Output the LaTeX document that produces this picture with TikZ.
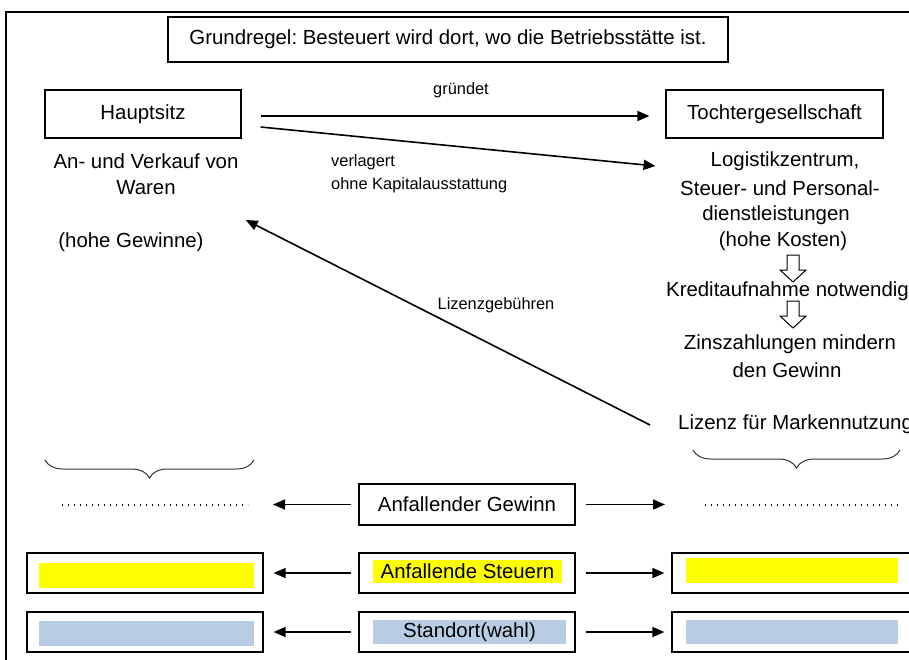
\documentclass[tikz,border=0pt]{standalone}
\usepackage{fontspec}
\setmainfont{Liberation Sans}
\usetikzlibrary{arrows.meta,decorations.pathreplacing,calc}
\definecolor{hl}{HTML}{FFFF00}
\definecolor{bl}{HTML}{B8CCE4}
\begin{document}
\frenchspacing
\begin{tikzpicture}[x=1pt,y=-1pt,
  txt/.style={font=\fontsize{20.4}{26.5}\selectfont, inner sep=0pt, align=center},
  lbl/.style={font=\fontsize{16.4}{23}\selectfont, inner sep=0pt, align=left},
  box/.style={draw, line width=1.2pt, inner sep=0pt},
  arr/.style={line width=1.6pt, -{Triangle[length=12pt,width=10pt]}},
  hollow/.style={draw, line width=1pt, fill=white},
  brc/.style={decorate, decoration={brace, mirror, amplitude=18pt}, line width=1pt, draw=black!80},
  dots/.style={line width=1.4pt, dash pattern=on 1.4pt off 4.6pt},
  frame/.style={line width=2.6pt}]
\useasboundingbox (0,0) rectangle (909,659);

% frame
\draw[frame] (6,662) -- (6,12) -- (912,12);

% title
\node[box, txt, minimum width=560pt, minimum height=45pt] (title) at (448,39.5)
  {Grundregel: Besteuert wird dort, wo die Betriebsstätte ist.};

% left column
\node[box, txt, minimum width=196pt, minimum height=48pt] (haupt) at (143,114) {Hauptsitz};
\node[txt] (waren) at (146,174) {An- und Verkauf von\\Waren};
\node[txt] (gewinne) at (131,242) {(hohe Gewinne)};

% right column
\node[box, txt, minimum width=217pt, minimum height=48pt] (tochter) at (774.5,114) {Tochtergesellschaft};
\node[txt] (logi) at (785,161) {Logistikzentrum,};
\node[txt] (steuer) at (780,188) {Steuer- und Personal-};
\node[txt] (dienst) at (776,215) {dienstleistungen};
\node[txt] (kosten) at (783,241) {(hohe Kosten)};
\node[txt] (kredit) at (787.5,291) {Kreditaufnahme notwendig};
\node[txt] (zins) at (790,344) {Zinszahlungen mindern};
\node[txt] (dengew) at (787,370) {den Gewinn};
\node[txt, anchor=west] (lizenz) at (678,424) {Lizenz für Markennutzung};

% hollow arrows
\draw[hollow] (787,255) -- (799,255) -- (799,270) -- (806,270) -- (793,282) -- (780,270) -- (787,270) -- cycle;
\draw[hollow] (787,301) -- (799,301) -- (799,316) -- (806,316) -- (793,328) -- (780,316) -- (787,316) -- cycle;

% top connectors
\node[lbl] (gruendet) at (461,90) {gründet};
\draw[arr] ($(haupt.east)+(19,2)$) -- ($(tochter.west)+(-16,2)$);
\node[lbl, anchor=west] (verl) at (331,173.5) {verlagert\\ohne Kapitalausstattung};
\draw[arr] ($(haupt.east)+(19,13)$) -- ($(logi.west)+(-55,5)$);
\node[lbl] (lizgeb) at (496,305) {Lizenzgebühren};
\draw[arr] ($(lizenz.west)+(-28,1)$) -- ($(gewinne.east)+(42,-22)$);

% braces
\draw[brc] (45,460) -- (254,460);
\draw[brc] (693,450) -- (900,450);

% row 1
\draw[dots] (62,505) -- (248,505);
\draw[dots] (705,505) -- (898,505);
\node[box, txt, minimum width=216pt, minimum height=41pt] (gew) at (467,504.5) {Anfallender Gewinn};
\coordinate (gewL) at (273,504.5);
\coordinate (gewR) at (665,504.5);
\draw[arr] ([xshift=-7pt]gew.west) -- (gewL);
\draw[arr] ([xshift=10pt]gew.east) -- (gewR);

% row 2
\node[box, minimum width=236pt, minimum height=40pt] (steuL) at (145,573) {};
\node[fill=hl, inner sep=0pt, minimum width=215pt, minimum height=25pt] (steuLi) at (146.5,575) {};
\node[box, minimum width=216pt, minimum height=40pt] (steuC) at (467,573) {};
\node[txt, fill=hl, minimum width=189pt, minimum height=23pt] (steuCi) at (467.5,571.5) {Anfallende Steuern};
\node[box, minimum width=250pt, minimum height=40pt] (steuR) at (797,573) {};
\node[fill=hl, inner sep=0pt, minimum width=212pt, minimum height=25pt] (steuRi) at (792,570.5) {};
\draw[arr] ([xshift=-7pt]steuC.west) -- ([xshift=10pt]steuL.east);
\draw[arr] ([xshift=10pt]steuC.east) -- ([xshift=-7pt]steuR.west);

% row 3
\node[box, minimum width=236pt, minimum height=40pt] (stoL) at (145,632) {};
\node[fill=bl, inner sep=0pt, minimum width=215pt, minimum height=25pt] (stoLi) at (146.5,633) {};
\node[box, minimum width=216pt, minimum height=40pt] (stoC) at (467,632) {};
\node[txt, fill=bl, minimum width=193pt, minimum height=24pt] (stoCi) at (469.5,632) {Standort(wahl)};
\node[box, minimum width=250pt, minimum height=40pt] (stoR) at (797,632) {};
\node[fill=bl, inner sep=0pt, minimum width=212pt, minimum height=24pt] (stoRi) at (792,632) {};
\draw[arr] ([xshift=-7pt]stoC.west) -- ([xshift=10pt]stoL.east);
\draw[arr] ([xshift=10pt]stoC.east) -- ([xshift=-7pt]stoR.west);
\end{tikzpicture}
\end{document}
